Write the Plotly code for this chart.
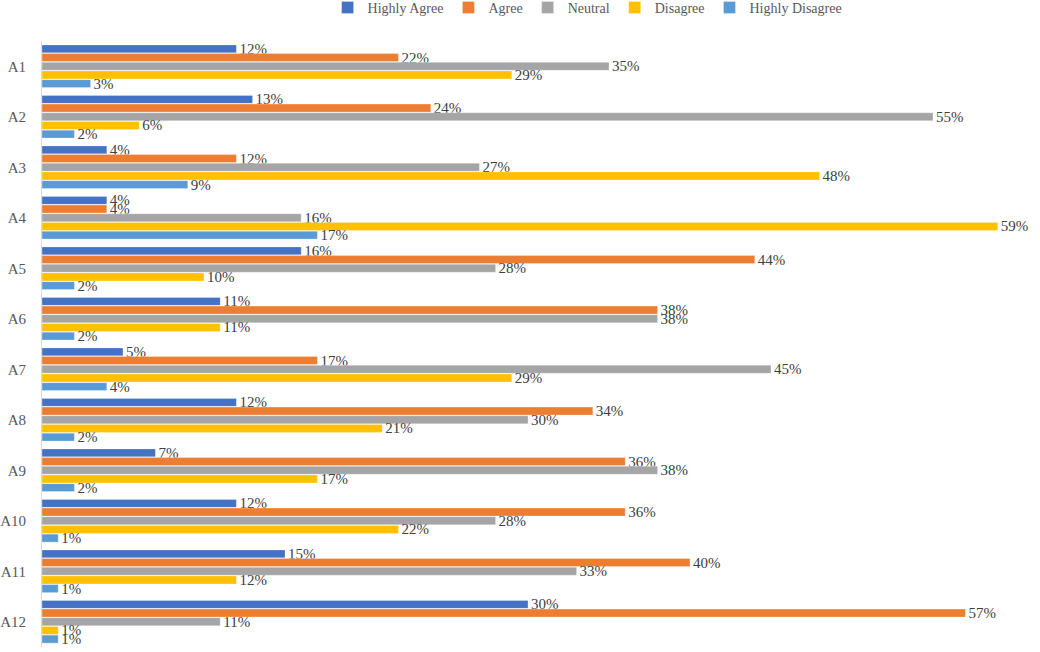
import plotly.graph_objects as go

# categories and series (percent)
items = ["A1", "A2", "A3", "A4", "A5", "A6", "A7", "A8", "A9", "A10", "A11", "A12"]
highly_agree = [12, 13, 4, 4, 16, 11, 5, 12, 7, 12, 15, 30]
agree = [22, 24, 12, 4, 44, 38, 17, 34, 36, 36, 40, 57]
neutral = [35, 55, 27, 16, 28, 38, 45, 30, 38, 28, 33, 11]
disagree = [29, 6, 48, 59, 10, 11, 29, 21, 17, 22, 12, 1]
highly_disagree = [3, 2, 9, 17, 2, 2, 4, 2, 2, 1, 1, 1]

series = [
    ("Highly Agree", highly_agree, "#4472C4"),
    ("Agree", agree, "#ED7D31"),
    ("Neutral", neutral, "#A5A5A5"),
    ("Disagree", disagree, "#FFC000"),
    ("Highly Disagree", highly_disagree, "#5B9BD5"),
]

font_family = "Liberation Serif, Times New Roman, serif"

fig = go.Figure()
for name, vals, color in series:
    fig.add_trace(go.Bar(
        name=name,
        y=items,
        x=vals,
        orientation="h",
        marker=dict(color=color, line=dict(color="rgba(255,255,255,0.6)", width=0.5)),
        text=[f"{v}%" for v in vals],
        textposition="outside",
        textfont=dict(family=font_family, size=15, color="#404040"),
        cliponaxis=False,
        constraintext="none",
    ))

fig.update_layout(
    width=1040,
    height=652,
    barmode="group",
    bargap=0.14,
    bargroupgap=0.08,
    plot_bgcolor="white",
    paper_bgcolor="white",
    margin=dict(l=42, r=26, t=41, b=5, autoexpand=False),
    font=dict(family=font_family, size=15, color="#595959"),
    legend=dict(
        orientation="h",
        xref="container",
        x=0.565,
        xanchor="center",
        yref="container",
        y=0.988,
        yanchor="middle",
        font=dict(family=font_family, size=14, color="#595959"),
        itemwidth=30,
    ),
    showlegend=True,
)

fig.update_xaxes(range=[0, 60], showticklabels=False, showgrid=False,
                 zeroline=False, showline=False, ticks="")
fig.update_yaxes(autorange="reversed", showgrid=False, showline=True,
                 linecolor="#D9D9D9", linewidth=1, ticks="", automargin=False,
                 ticklabelstandoff=12,
                 tickfont=dict(family=font_family, size=15, color="#595959"))

# drop the default page margin so the figure fills the window
fig.write_html("out.html", config={"displayModeBar": False},
               post_script="document.body.style.margin='0';")
